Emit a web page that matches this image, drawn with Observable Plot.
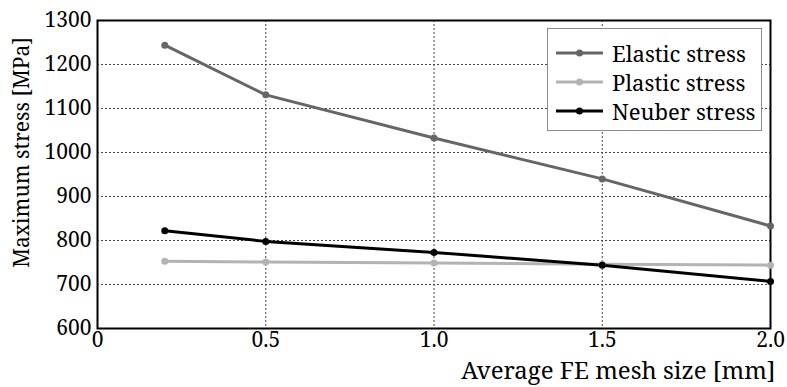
<!DOCTYPE html>
<html>
<head>
<meta charset="utf-8">
<script src="https://cdn.jsdelivr.net/npm/d3@7"></script>
<script src="https://cdn.jsdelivr.net/npm/@observablehq/plot@0.6"></script>
</head>
<body style="margin:0;padding:0;background:white">
<div id="wrap" style="position:relative;width:787px;height:387px;overflow:hidden"></div>
<script>
const xValues = [0.2, 0.5, 1.0, 1.5, 2.0];
const elastic = [1244, 1131, 1033, 940, 833];
const plastic = [753, 751, 749, 746, 744];
const neuber = [822, 798, 773, 744, 707];
const seriesNames = ["Elastic stress", "Plastic stress", "Neuber stress"];
const seriesColors = ["#666666", "#b3b3b3", "#000000"];
const yTicks = [600, 700, 800, 900, 1000, 1100, 1200, 1300];
const xTicks = [0, 0.5, 1.0, 1.5, 2.0];
const xTickLabels = ["0", "0.5", "1.0", "1.5", "2.0"];
const xLabel = "Average FE mesh size [mm]";
const yLabel = "Maximum stress [MPa]";

const FONT = '"Noto Serif", "Liberation Serif", serif';
const FS = 21;

const seriesValues = [elastic, plastic, neuber];
const data = seriesNames.flatMap((name, i) =>
  xValues.map((x, j) => ({ series: name, x, y: seriesValues[i][j] })));

const gridStyle = { stroke: "#444", strokeOpacity: 1, strokeWidth: 1, strokeDasharray: "2,2" };

const chart = Plot.plot({
  width: 787, height: 387,
  marginLeft: 97, marginRight: 17, marginTop: 20, marginBottom: 59,
  x: { domain: [0, 2] },
  y: { domain: [600, 1300] },
  color: { domain: seriesNames, range: seriesColors },
  style: { fontFamily: FONT, fontSize: FS + "px", color: "black", background: "white" },
  marks: [
    Plot.gridY(yTicks.slice(1, -1), gridStyle),
    Plot.gridX(xTicks.slice(1, -1), gridStyle),
    Plot.axisY(yTicks, { tickSize: 0, tickPadding: 6, label: null, fontSize: FS, tickFormat: d => String(d) }),
    Plot.axisX(xTicks, { tickSize: 0, tickPadding: 4, label: null, fontSize: FS,
      tickFormat: d => xTickLabels[xTicks.indexOf(d)] }),
    Plot.frame({ stroke: "black", strokeWidth: 2 }),
    Plot.line(data, { x: "x", y: "y", stroke: "series", strokeWidth: 3 }),
    Plot.dot(data, { x: "x", y: "y", fill: "series", r: 3.5 }),
    Plot.text([xLabel], { text: d => d, frameAnchor: "bottom-right", dx: 5, dy: 43,
      textAnchor: "end", lineAnchor: "middle", fontSize: 24 }),
    Plot.text([yLabel], { text: d => d, frameAnchor: "left", rotate: -90, dx: -75, dy: -22,
      textAnchor: "middle", lineAnchor: "middle", fontSize: 21 })
  ]
});
chart.querySelectorAll("text").forEach(t => { t.style.fontFamily = FONT; });

const wrap = document.getElementById("wrap");
wrap.appendChild(chart);

const legend = document.createElement("div");
Object.assign(legend.style, {
  position: "absolute", left: "547px", top: "28px", width: "215px", height: "103px",
  background: "white", border: "1px solid #8a8a8a", boxSizing: "border-box"
});
const rowTops = [9, 38, 67];
const ns = "http://www.w3.org/2000/svg";
seriesNames.forEach((name, i) => {
  const row = document.createElement("div");
  Object.assign(row.style, { position: "absolute", left: "8px", top: rowTops[i] + "px",
    height: "29px", display: "flex", alignItems: "center" });
  const svg = document.createElementNS(ns, "svg");
  svg.setAttribute("width", 47); svg.setAttribute("height", 10);
  const ln = document.createElementNS(ns, "line");
  ln.setAttribute("x1", 0); ln.setAttribute("x2", 47); ln.setAttribute("y1", 5); ln.setAttribute("y2", 5);
  ln.setAttribute("stroke", seriesColors[i]); ln.setAttribute("stroke-width", 3);
  const c = document.createElementNS(ns, "circle");
  c.setAttribute("cx", 23.5); c.setAttribute("cy", 5); c.setAttribute("r", 3.5);
  c.setAttribute("fill", seriesColors[i]);
  svg.appendChild(ln); svg.appendChild(c);
  const sp = document.createElement("span");
  Object.assign(sp.style, { fontFamily: FONT, fontSize: "22px", color: "black",
    marginLeft: "9px", whiteSpace: "nowrap" });
  sp.textContent = name;
  row.appendChild(svg); row.appendChild(sp);
  legend.appendChild(row);
});
wrap.appendChild(legend);
</script>
</body>
</html>
